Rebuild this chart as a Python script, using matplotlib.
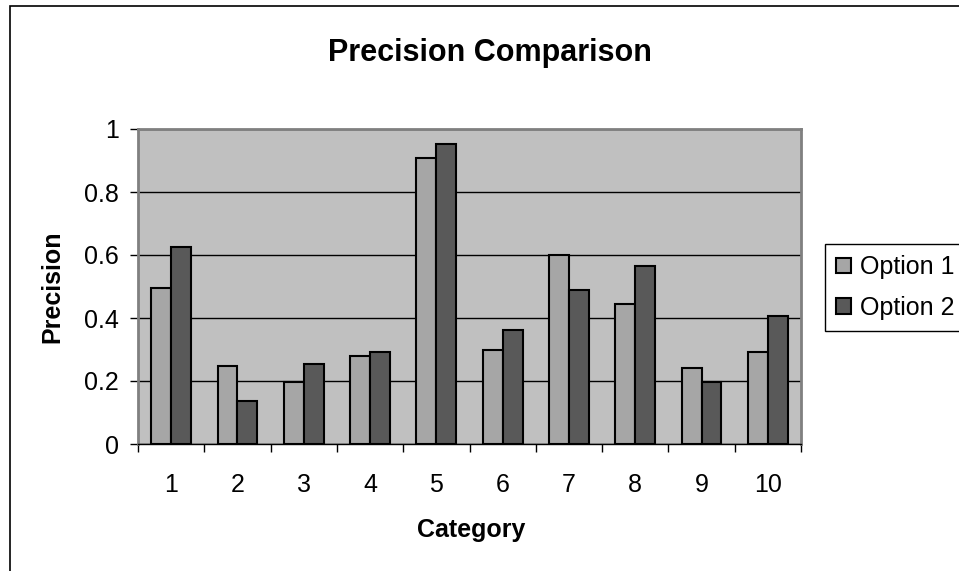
import matplotlib.pyplot as plt
import matplotlib.patches as patches
import numpy as np

plt.rcParams['font.family'] = ['Liberation Sans', 'DejaVu Sans']

# data
categories = ['1', '2', '3', '4', '5', '6', '7', '8', '9', '10']
option1 = [0.494, 0.248, 0.196, 0.279, 0.907, 0.298, 0.601, 0.443, 0.240, 0.291]
option2 = [0.626, 0.138, 0.253, 0.291, 0.952, 0.361, 0.488, 0.565, 0.196, 0.405]
yticks = [0, 0.2, 0.4, 0.6, 0.8, 1]
ytick_labels = ['0', '0.2', '0.4', '0.6', '0.8', '1']

W, H = 959, 571
fig = plt.figure(figsize=(W / 100, H / 100), dpi=100)
fig.patch.set_facecolor('white')

# outer chart frame (right/bottom cut off in the original)
frame = patches.Rectangle((10 / W, -0.1), 1.1, 1 - 6 / H + 0.1, transform=fig.transFigure,
                          fill=False, edgecolor='black', linewidth=1.2, clip_on=False)
fig.patches.append(frame)

ax = fig.add_axes([138 / W, 1 - 444 / H, (801 - 138) / W, (444 - 129) / H])
ax.set_facecolor('#C0C0C0')

x = np.arange(len(categories))
bw = 0.3
ax.bar(x - bw / 2, option1, bw, color='#A6A6A6', edgecolor='black', linewidth=1.5,
       label='Option 1', zorder=3)
ax.bar(x + bw / 2, option2, bw, color='#595959', edgecolor='black', linewidth=1.5,
       label='Option 2', zorder=3)

ax.set_xlim(-0.5, len(categories) - 0.5)
ax.set_ylim(0, 1)
ax.set_yticks(yticks)
ax.set_yticklabels(ytick_labels)
ax.yaxis.grid(True, color='black', linewidth=1, zorder=1)
ax.set_axisbelow(True)

# category labels at centers, ticks at boundaries
ax.set_xticks(x)
ax.set_xticklabels(categories)
ax.tick_params(axis='x', length=0, labelsize=18, pad=21)
ax.set_xticks(np.arange(len(categories) + 1) - 0.5, minor=True)
ax.tick_params(axis='x', which='minor', length=6, color='black', width=1)
ax.tick_params(axis='y', length=6, labelsize=18, color='black', width=1, pad=8)

for s in ['left', 'top', 'right']:
    ax.spines[s].set_color('#808080')
    ax.spines[s].set_linewidth(2)
ax.spines['bottom'].set_color('black')
ax.spines['bottom'].set_linewidth(1)

fig.text(490 / W, 1 - 61 / H, 'Precision Comparison', ha='center', va='baseline',
         fontsize=22, fontweight='bold')
fig.text(471 / W, 1 - 537 / H, 'Category', ha='center', va='baseline',
         fontsize=18, fontweight='bold')
fig.text(52 / W, 1 - 287 / H, 'Precision', ha='center', va='center', rotation=90,
         fontsize=18, fontweight='bold')

leg = fig.legend(loc='upper left', bbox_to_anchor=(825 / W, 1 - 244 / H), fontsize=18,
                 frameon=True, fancybox=False, edgecolor='black', framealpha=1,
                 handlelength=0.6, handleheight=0.6, handletextpad=0.36,
                 borderpad=0.45, labelspacing=0.65, borderaxespad=0)
leg.get_frame().set_linewidth(1)

fig.savefig('out.png', dpi=100)
